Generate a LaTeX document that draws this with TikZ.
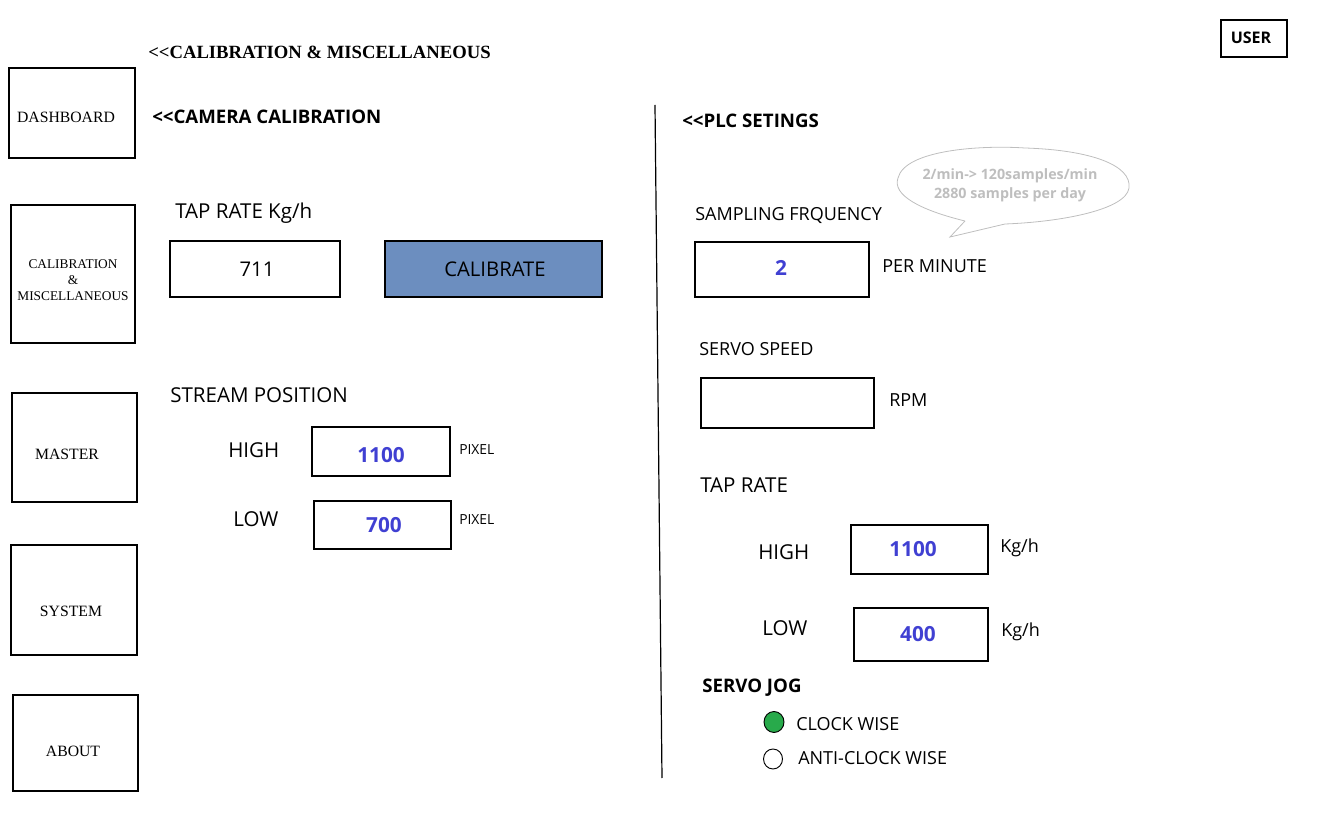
\documentclass[tikz,border=0pt]{standalone}
\usepackage{fontspec}
\setmainfont{Open Sans}
\newfontfamily\serifnav{Liberation Serif}
\definecolor{valblue}{RGB}{64,64,210}
\definecolor{btnblue}{RGB}{108,142,191}
\definecolor{okgreen}{RGB}{40,170,75}
\definecolor{hintgray}{RGB}{190,190,190}
\tikzset{
  box/.style={draw=black, line width=0.9pt},
  navtxt/.style={font=\serifnav\fontsize{11.8}{13}\selectfont, align=center, inner sep=0},
  lbl/.style={anchor=west, inner sep=0, font=\fontsize{15.4}{17}\selectfont},
  lblsm/.style={anchor=west, inner sep=0, font=\fontsize{13.5}{15}\selectfont},
  tiny/.style={anchor=west, inner sep=0, font=\fontsize{10.4}{12}\selectfont},
  head/.style={anchor=west, inner sep=0, font=\bfseries\fontsize{14}{16}\selectfont},
  val/.style={inner sep=0, font=\bfseries\fontsize{15.6}{17}\selectfont, text=valblue},
  plain/.style={inner sep=0, font=\fontsize{15.2}{17}\selectfont},
}
\begin{document}
\begin{tikzpicture}[x=0.75pt,y=-0.75pt]
\useasboundingbox (0,0) rectangle (1322,816);
% title and user
\node[anchor=west, inner sep=0, font=\serifnav\bfseries\fontsize{14}{16}\selectfont] (title) at (148,52) {<{}<CALIBRATION \& MISCELLANEOUS};
\draw[box] (1221,20) rectangle (1287,57);
\node[inner sep=0, font=\bfseries\fontsize{12}{14}\selectfont] (user) at (1251,38) {USER};
% navigation
\draw[box] (9,68) rectangle (135,158);
\node[navtxt] (dash) at (66,117) {DASHBOARD};
\draw[box] (11,205) rectangle (135,343);
\node[navtxt, font=\serifnav\fontsize{10}{12}\selectfont] (calnav) at (73,280) {CALIBRATION\\\&\\MISCELLANEOUS};
\draw[box] (12,393) rectangle (137,502);
\node[navtxt] (master) at (67,454) {MASTER};
\draw[box] (11,545) rectangle (137,655);
\node[navtxt] (system) at (71,611) {SYSTEM};
\draw[box] (13,695) rectangle (138,791);
\node[navtxt] (about) at (73,751) {ABOUT};
% camera calibration
\node[head] (camh) at (152,117) {<{}<CAMERA CALIBRATION};
\node[lbl] (taprate) at (175,213) {TAP RATE Kg/h};
\draw[box] (170,241) rectangle (340,297);
\node[plain] (v711) at (257,269) {711};
\draw[box, fill=btnblue] (385,241) rectangle (602,297);
\node[plain] (calbtn) at (495,269) {CALIBRATE};
\node[lbl] (stream) at (170,395) {STREAM POSITION};
\node[lbl] (hi1) at (228,450) {HIGH};
\draw[box] (312,427) rectangle (450,476);
\node[val] (v1100a) at (381,455) {1100};
\node[tiny] (px1) at (459,450) {PIXEL};
\node[lbl] (lo1) at (233,519) {LOW};
\draw[box] (314,501) rectangle (451,549);
\node[val] (v700) at (384,525) {700};
\node[tiny] (px2) at (459,520) {PIXEL};
% divider
\coordinate (dtop) at (655,105);
\coordinate (dbot) at (662,778);
\draw[line width=0.9pt] (dtop) -- (dbot);
% PLC settings
\node[head] (plch) at (682,121) {<{}<PLC SETINGS};
\draw[hintgray, line width=0.6pt] (965,221) .. controls (920,210) and (892,195) .. (898,178)
  .. controls (905,150) and (980,145) .. (1025,148)
  .. controls (1090,150) and (1132,165) .. (1129,188)
  .. controls (1126,210) and (1060,222) .. (1005,224)
  -- (950,237) -- (965,221);
\node[inner sep=0, align=center, text=hintgray, font=\bfseries\fontsize{10.7}{14}\selectfont] (hint) at (1010,185) {2/min-> 120samples/min\\2880 samples per day};
\node[lblsm] (samp) at (695,216) {SAMPLING FRQUENCY};
\draw[box] (695,242) rectangle (869,297);
\node[val] (v2) at (781,268) {2};
\node[lblsm] (permin) at (882,266) {PER MINUTE};
\node[lblsm] (servo) at (699,349) {SERVO SPEED};
\draw[box] (701,378) rectangle (874,428);
\node[lblsm] (rpm) at (889,400) {RPM};
\node[lbl] (tap2) at (700,485) {TAP RATE};
\node[lbl] (hi2) at (758,552) {HIGH};
\draw[box] (851,525) rectangle (988,574);
\node[val] (v1100b) at (913,549) {1100};
\node[lblsm] (kg1) at (1000,548) {Kg/h};
\node[lbl] (lo2) at (762,628) {LOW};
\draw[box] (854,608) rectangle (988,661);
\node[val] (v400) at (918,634) {400};
\node[lblsm] (kg2) at (1001,632) {Kg/h};
\node[head] (jog) at (702,688) {SERVO JOG};
\draw[fill=okgreen, line width=0.7pt] (774,722) ellipse (10 and 10.5);
\node[lblsm] (cw) at (796,724) {CLOCK WISE};
\draw[fill=white, line width=0.7pt] (773,759) ellipse (9.5 and 10);
\node[lblsm] (acw) at (798,758) {ANTI-CLOCK WISE};
\end{tikzpicture}
\end{document}
